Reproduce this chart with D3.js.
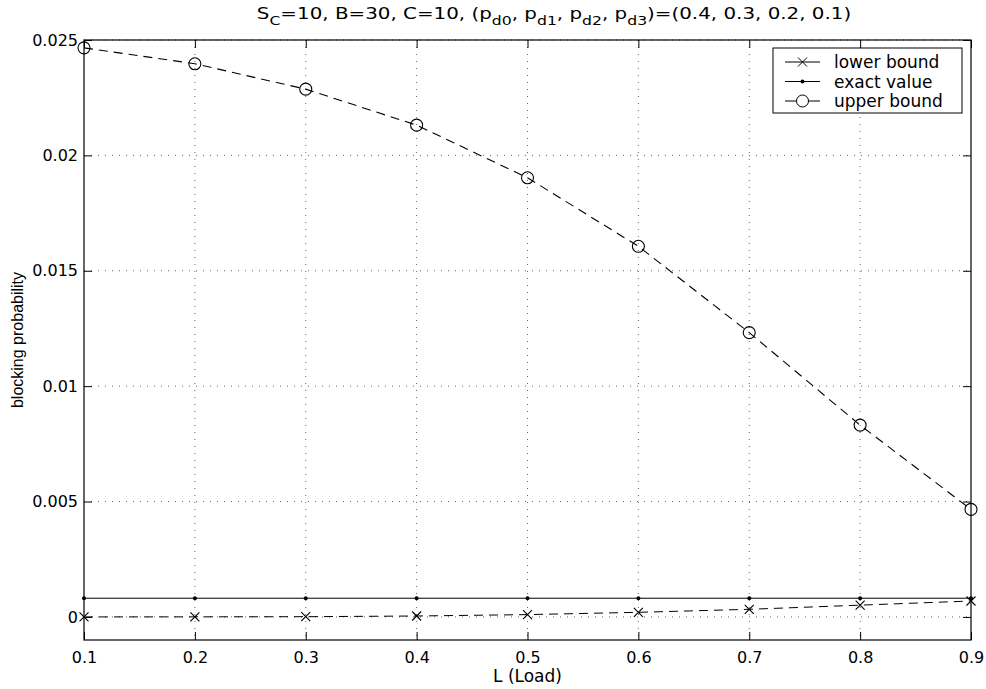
<html>
<head>
<script src="https://cdn.jsdelivr.net/npm/d3@7"></script>
<style>
body { margin: 0; background: white; }
text { fill: black; font-family: "DejaVu Sans", sans-serif; }
.grid line { stroke: #666; stroke-width: 1; stroke-dasharray: 1,6; }
</style>
</head>
<body>
<div id="container"></div>
<script>
// data
var loads = [0.1, 0.2, 0.3, 0.4, 0.5, 0.6, 0.7, 0.8, 0.9];
var lowerBound = [0.0, 0.000003, 0.00001, 0.00004, 0.0001, 0.0002, 0.00033, 0.00051, 0.00069];
var exactValue = [0.00081, 0.00081, 0.00081, 0.00081, 0.00081, 0.00081, 0.00081, 0.00081, 0.00081];
var upperBound = [0.02466, 0.02397, 0.02287, 0.02131, 0.01903, 0.01606, 0.01232, 0.00831, 0.00466];
var xTicks = [0.1, 0.2, 0.3, 0.4, 0.5, 0.6, 0.7, 0.8, 0.9];
var yTicks = [0, 0.005, 0.01, 0.015, 0.02, 0.025];
var seriesNames = ["lower bound", "exact value", "upper bound"];

var width = 986, height = 689;
var margin = {left: 84, right: 15, top: 40, bottom: 49};

var svg = d3.select("#container").append("svg")
    .attr("width", width)
    .attr("height", height);

var x = d3.scaleLinear().domain([0.1, 0.9]).range([margin.left, width - margin.right]);
var y = d3.scaleLinear().domain([-0.001, 0.025]).range([height - margin.bottom, margin.top]);

var x0 = x.range()[0], x1 = x.range()[1];
var y0 = y.range()[0], y1 = y.range()[1];

// grid
var grid = svg.append("g").attr("class", "grid");
grid.selectAll("line.vx")
    .data(xTicks.slice(1, -1))
    .enter().append("line")
    .attr("x1", function(d) { return x(d); })
    .attr("x2", function(d) { return x(d); })
    .attr("y1", y1).attr("y2", y0);
grid.selectAll("line.hy")
    .data(yTicks)
    .enter().append("line")
    .attr("x1", x0).attr("x2", x1)
    .attr("y1", function(d) { return y(d); })
    .attr("y2", function(d) { return y(d); });

// axes
var tickLen = 8;
svg.append("g")
    .attr("transform", "translate(0," + y0 + ")")
    .call(d3.axisBottom(x).tickValues(xTicks).tickSize(-tickLen).tickPadding(12)
        .tickFormat(d3.format("")))
    .call(function(g) {
        g.select(".domain").remove();
        g.selectAll("text").style("font-size", "16px").attr("font-family", null);
    });
svg.append("g")
    .attr("transform", "translate(0," + y1 + ")")
    .call(d3.axisTop(x).tickValues(xTicks).tickSize(-tickLen).tickFormat(""))
    .call(function(g) { g.select(".domain").remove(); });
svg.append("g")
    .attr("transform", "translate(" + x0 + ",0)")
    .call(d3.axisLeft(y).tickValues(yTicks).tickSize(-tickLen).tickPadding(6)
        .tickFormat(function(d) { return d === 0 ? "0" : String(+d.toFixed(3)); }))
    .call(function(g) {
        g.select(".domain").remove();
        g.selectAll("text").style("font-size", "16px").attr("font-family", null);
    });
svg.append("g")
    .attr("transform", "translate(" + x1 + ",0)")
    .call(d3.axisRight(y).tickValues(yTicks).tickSize(-tickLen).tickFormat(""))
    .call(function(g) { g.select(".domain").remove(); });

svg.append("rect")
    .attr("x", x0).attr("y", y1)
    .attr("width", x1 - x0).attr("height", y0 - y1)
    .attr("fill", "none").attr("stroke", "black").attr("stroke-width", 1.2);

// lines
var line = d3.line()
    .x(function(d, i) { return x(loads[i]); })
    .y(function(d) { return y(d); });

svg.append("path").datum(lowerBound)
    .attr("d", line).attr("fill", "none").attr("stroke", "black")
    .attr("stroke-width", 1).attr("stroke-dasharray", "9,6");
svg.append("path").datum(exactValue)
    .attr("d", line).attr("fill", "none").attr("stroke", "black")
    .attr("stroke-width", 1);
svg.append("path").datum(upperBound)
    .attr("d", line).attr("fill", "none").attr("stroke", "black")
    .attr("stroke-width", 1.1).attr("stroke-dasharray", "9,6");

function crossPath(cx, cy, r) {
    return "M" + (cx - r) + "," + (cy - r) + "L" + (cx + r) + "," + (cy + r) +
        "M" + (cx - r) + "," + (cy + r) + "L" + (cx + r) + "," + (cy - r);
}

svg.append("g").selectAll("path")
    .data(lowerBound).enter().append("path")
    .attr("d", function(d, i) { return crossPath(x(loads[i]), y(d), 4.5); })
    .attr("stroke", "black").attr("stroke-width", 1.1);
svg.append("g").selectAll("circle")
    .data(exactValue).enter().append("circle")
    .attr("cx", function(d, i) { return x(loads[i]); })
    .attr("cy", function(d) { return y(d); })
    .attr("r", 2).attr("fill", "black");
svg.append("g").selectAll("circle")
    .data(upperBound).enter().append("circle")
    .attr("cx", function(d, i) { return x(loads[i]); })
    .attr("cy", function(d) { return y(d); })
    .attr("r", 6).attr("fill", "none").attr("stroke", "black").attr("stroke-width", 1.1);

// legend
var lg = svg.append("g").attr("transform", "translate(773,48)");
lg.append("rect").attr("width", 189).attr("height", 65)
    .attr("fill", "white").attr("stroke", "black").attr("stroke-width", 1);
seriesNames.forEach(function(name, i) {
    var yy = 14 + i * 19.5;
    lg.append("line").attr("x1", 12).attr("x2", 47).attr("y1", yy).attr("y2", yy)
        .attr("stroke", "black");
    if (i == 0) {
        lg.append("path").attr("d", crossPath(29.5, yy, 4.5)).attr("stroke", "black");
    } else if (i == 1) {
        lg.append("circle").attr("cx", 29.5).attr("cy", yy).attr("r", 2).attr("fill", "black");
    } else {
        lg.append("circle").attr("cx", 29.5).attr("cy", yy).attr("r", 6)
            .attr("fill", "white").attr("stroke", "black");
    }
    lg.append("text").attr("x", 61).attr("y", yy + 6)
        .style("font-size", "17px").text(name);
});

// title (the original font is wide, so stretch it to the same width)
var titleG = svg.append("g");
var title = titleG.append("text")
    .attr("x", 0).attr("y", 0)
    .attr("text-anchor", "middle")
    .style("font-size", "16.5px");
var parts = [["S", ""], ["C", "sub"], ["=10, B=30, C=10, (p", ""], ["d0", "sub"], [", p", ""],
    ["d1", "sub"], [", p", ""], ["d2", "sub"], [", p", ""], ["d3", "sub"], [")=(0.4, 0.3, 0.2, 0.1)", ""]];
var prevSub = false;
parts.forEach(function(p) {
    var t = title.append("tspan").text(p[0]);
    if (p[1] == "sub") {
        t.style("font-size", "13px");
        if (!prevSub) { t.attr("dy", 6); prevSub = true; }
    } else if (prevSub) { t.attr("dy", -6); prevSub = false; }
});
var tw = title.node().getBBox().width;
titleG.attr("transform", "translate(554,19) scale(" + (595 / tw) + ",1)");

// axis labels
svg.append("text")
    .attr("x", (x0 + x1) / 2).attr("y", 682)
    .attr("text-anchor", "middle")
    .style("font-size", "17px")
    .text("L (Load)");
svg.append("text")
    .attr("transform", "translate(23," + ((y0 + y1) / 2) + ") rotate(-90)")
    .attr("text-anchor", "middle")
    .style("font-family", "'Liberation Sans Narrow', 'Liberation Sans', sans-serif")
    .style("font-size", "16px")
    .text("blocking probability");
</script>
</body>
</html>
